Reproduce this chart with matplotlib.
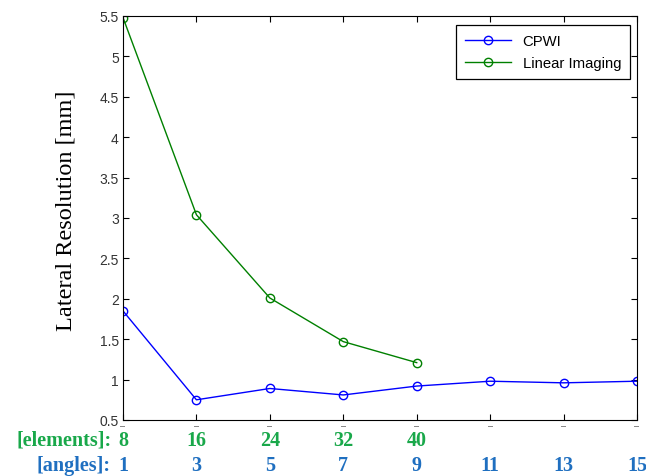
import matplotlib
matplotlib.use("Agg")
import matplotlib.pyplot as plt

positions = [1, 2, 3, 4, 5, 6, 7, 8]
cpwi = [1.85, 0.75, 0.89, 0.81, 0.92, 0.98, 0.96, 0.98]
linear = [5.48, 3.04, 2.01, 1.47, 1.21]
elements = ["8", "16", "24", "32", "40"]
angles = ["1", "3", "5", "7", "9", "11", "13", "15"]
yticks = [0.5, 1, 1.5, 2, 2.5, 3, 3.5, 4, 4.5, 5, 5.5]

W, H = 646, 477
fig = plt.figure(figsize=(W / 100, H / 100), dpi=100)
ax = fig.add_axes([123 / W, 1 - 421 / H, (637 - 123) / W, (421 - 17) / H])
ax.plot(positions, cpwi, color="#0000ff", marker="o", mfc="none", ms=6, lw=1, mew=1, label="CPWI")
ax.plot(positions[:len(linear)], linear, color="#008000", marker="o", mfc="none", ms=6, lw=1, mew=1, label="Linear Imaging")
ax.set_xlim(1, 8)
ax.set_ylim(0.5, 5.5)
ax.set_yticks(yticks)
ax.set_yticklabels([f"{v:g}" for v in yticks], fontfamily="Liberation Sans", fontsize=10, color="#333333")
ax.set_xticks(positions)
ax.set_xticklabels(["\u2013"] * len(positions), fontfamily="Liberation Sans", fontsize=6.5, color="#444444")
ax.tick_params(axis="y", direction="in", left=True, right=True, length=4, width=0.8, pad=3)
ax.tick_params(axis="x", direction="in", bottom=True, top=True, length=4, width=0.8, pad=0.5)
for s in ax.spines.values():
    s.set_linewidth(0.8)

fig.text(66 / W, 1 - 211 / H, "Lateral Resolution [mm]", rotation=90, ha="center", va="center",
         fontfamily="Liberation Serif", fontsize=17.5)

leg = ax.legend(loc="upper right", prop={"family": "Liberation Sans", "size": 10.7},
                fancybox=False, edgecolor="black", framealpha=1,
                bbox_to_anchor=(630 / W, 1 - 26 / H), bbox_transform=fig.transFigure,
                borderaxespad=0, handlelength=3.1, labelspacing=0.55, borderpad=0.6)
leg.get_frame().set_linewidth(0.9)

green = "#19a84a"
blue = "#1f6fc0"
tf = dict(fontfamily="Liberation Serif", fontweight="bold", fontsize=14.5)
ah = 421 - 17
y1 = -(441 - 421) / ah
y2 = -(466 - 421) / ah
for p, t in zip(positions, elements):
    ax.text(p, y1, t, transform=ax.get_xaxis_transform(), ha="center", va="center", color=green, **tf)
for p, t in zip(positions, angles):
    ax.text(p, y2, t, transform=ax.get_xaxis_transform(), ha="center", va="center", color=blue, **tf)
fig.text(112 / W, 1 - 441 / H, "[elements]:", ha="right", va="center", color=green, **tf)
fig.text(110 / W, 1 - 466 / H, "[angles]:", ha="right", va="center", color=blue, **tf)

fig.savefig("out.png", dpi=100)
